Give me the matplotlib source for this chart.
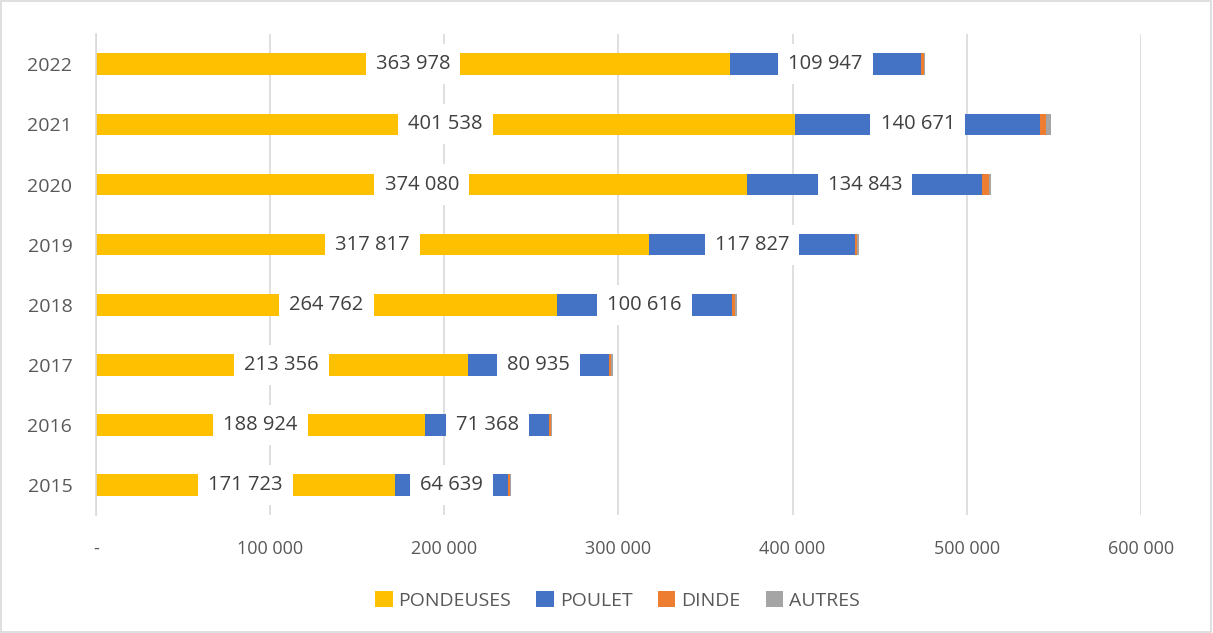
import matplotlib
matplotlib.use("Agg")
import matplotlib.pyplot as plt
from matplotlib.patches import Rectangle
import numpy as np

years = ["2015", "2016", "2017", "2018", "2019", "2020", "2021", "2022"]
pondeuses = [171723, 188924, 213356, 264762, 317817, 374080, 401538, 363978]
poulet = [64639, 71368, 80935, 100616, 117827, 134843, 140671, 109947]
dinde = [1100, 1200, 1500, 1800, 1500, 3700, 3200, 1500]
autres = [700, 600, 900, 800, 800, 1500, 3000, 500]
xticks = [0, 100000, 200000, 300000, 400000, 500000, 600000]
xticklabels = ["-", "100 000", "200 000", "300 000", "400 000", "500 000", "600 000"]

series = [("PONDEUSES", pondeuses, "#FFC000"),
          ("POULET", poulet, "#4472C4"),
          ("DINDE", dinde, "#ED7D31"),
          ("AUTRES", autres, "#A5A5A5")]

plt.rcParams['font.family'] = ['Open Sans', 'DejaVu Sans']
fig = plt.figure(figsize=(12.13, 6.33), dpi=100)
ax = fig.add_axes([0.0791, 0.186, 0.8615, 0.760])

y = np.arange(len(years))
left = np.zeros(len(years))
txtcol = "#404040"
for i, (name, vals, col) in enumerate(series):
    vals = np.array(vals, dtype=float)
    ax.barh(y, vals, left=left, height=0.36, color=col, label=name, zorder=2)
    if i < 2:
        for yy, l, v in zip(y, left, vals):
            ax.text(l + v / 2, yy, f"{int(v):,}".replace(",", " "),
                    ha="center", va="center", fontsize=14.5, color=txtcol, zorder=4,
                    bbox=dict(boxstyle="square,pad=0.5", fc="white", ec="none"))
    left += vals

ax.set_xlim(0, 600000)
ax.set_ylim(-0.5, len(years) - 0.5)
ax.set_yticks(y)
ax.set_yticklabels(years, fontsize=14, color="#595959")
ax.set_xticks(xticks)
ax.set_xticklabels(xticklabels, fontsize=13, color="#595959")
ax.tick_params(axis="both", length=0)
ax.tick_params(axis="x", pad=18)
ax.tick_params(axis="y", pad=17)
ax.grid(axis="x", color="#d9d9d9", linewidth=1.2, zorder=0)
ax.set_axisbelow(True)
for s in ["top", "right", "bottom"]:
    ax.spines[s].set_visible(False)
ax.spines["left"].set_color("#d9d9d9")
ax.spines["left"].set_linewidth(1.2)

fig.legend(loc="center", bbox_to_anchor=(0.509, 0.051), ncol=4, frameon=False,
           fontsize=14, handlelength=0.9, handleheight=0.9, handletextpad=0.3,
           columnspacing=1.3, labelcolor="#595959")

fig.patches.append(Rectangle((0.001, 0.002), 0.997, 0.996, transform=fig.transFigure,
                             fill=False, ec="#d9d9d9", lw=1.2))
fig.savefig("out.png", dpi=100)
